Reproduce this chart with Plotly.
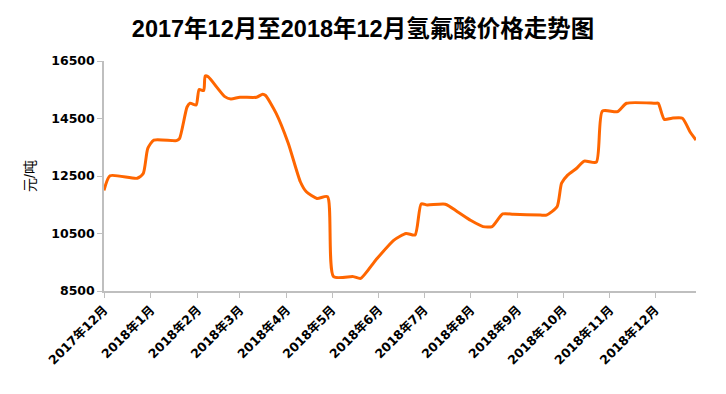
import plotly.graph_objects as go

dates = [
    "2017-12-01", "2017-12-05", "2017-12-23", "2017-12-27", "2017-12-30",
    "2018-01-03", "2018-01-18", "2018-01-20", "2018-01-25", "2018-01-27",
    "2018-01-31", "2018-02-02", "2018-02-05", "2018-02-06", "2018-02-08",
    "2018-02-19", "2018-02-23", "2018-03-01", "2018-03-12", "2018-03-16",
    "2018-03-18", "2018-03-25", "2018-04-02", "2018-04-10", "2018-04-14",
    "2018-04-21", "2018-04-28", "2018-05-02", "2018-05-15", "2018-05-20",
    "2018-05-30", "2018-06-11", "2018-06-19", "2018-06-25", "2018-06-29",
    "2018-07-03", "2018-07-15", "2018-07-23", "2018-08-01", "2018-08-09",
    "2018-08-15", "2018-08-22", "2018-08-29", "2018-09-16", "2018-09-20",
    "2018-09-27", "2018-09-30", "2018-10-04", "2018-10-10", "2018-10-15",
    "2018-10-23", "2018-10-27", "2018-11-06", "2018-11-12", "2018-12-01",
    "2018-12-03", "2018-12-07", "2018-12-12", "2018-12-19", "2018-12-24",
    "2018-12-28",
]
prices = [
    12000, 12510, 12420, 12590, 13460,
    13750, 13730, 13800, 14900, 15030,
    14970, 15510, 15470, 15980, 15950,
    15260, 15180, 15240, 15240, 15340,
    15300, 14680, 13640, 12300, 11950,
    11720, 11780, 9000, 9000, 8940,
    9580, 10270, 10500, 10450, 11530,
    11490, 11520, 11260, 10950, 10740,
    10740, 11180, 11170, 11140, 11140,
    11430, 12250, 12530, 12770, 13020,
    12980, 14760, 14740, 15030, 15030,
    15030, 14470, 14510, 14510, 14040,
    13750,
]

tick_dates = [
    "2017-12-01", "2018-01-01", "2018-02-01", "2018-03-01", "2018-04-01",
    "2018-05-01", "2018-06-01", "2018-07-01", "2018-08-01", "2018-09-01",
    "2018-10-01", "2018-11-01", "2018-12-01",
]
tick_labels = [
    "2017年12月", "2018年1月", "2018年2月", "2018年3月", "2018年4月",
    "2018年5月", "2018年6月", "2018年7月", "2018年8月", "2018年9月",
    "2018年10月", "2018年11月", "2018年12月",
]
y_ticks = [8500, 10500, 12500, 14500, 16500]

title_font = "Liberation Sans, Noto Sans CJK SC, sans-serif"
tick_font = "DejaVu Sans, Noto Sans CJK SC, sans-serif"

fig = go.Figure()
fig.add_trace(go.Scatter(
    x=dates, y=prices, mode="lines",
    line=dict(color="#FF6600", width=3, shape="spline", smoothing=0.6),
    showlegend=False, hoverinfo="x+y",
))

fig.update_layout(
    width=726, height=394,
    margin=dict(l=104, r=30, t=61, b=103),
    paper_bgcolor="white", plot_bgcolor="white",
    font=dict(family=tick_font, color="black"),
    title=dict(
        text="<b>2017年12月至2018年12月氢氟酸价格走势图</b>",
        x=0.5, xanchor="center", y=0.928, yanchor="middle",
        font=dict(size=23.5, family=title_font, color="black"),
    ),
    xaxis=dict(
        type="date",
        range=["2017-12-01", "2018-12-28"],
        tickmode="array", tickvals=tick_dates, ticktext=["<b>%s</b>" % t for t in tick_labels],
        tickangle=-45, tickfont=dict(size=12.5, family=tick_font, color="black"),
        showgrid=False, zeroline=False, automargin=False,
        showline=True, linecolor="#bfbfbf", linewidth=1.5,
        ticks="outside", ticklen=5, tickcolor="#bfbfbf",
    ),
    yaxis=dict(
        range=[8500, 16500],
        tickmode="array", tickvals=y_ticks, ticktext=["<b>%d</b>" % v for v in y_ticks],
        tickfont=dict(size=12.5, family=tick_font, color="black"),
        showgrid=False, zeroline=False, automargin=False,
        showline=True, linecolor="#bfbfbf", linewidth=1.5,
        ticks="outside", ticklen=5, tickcolor="#bfbfbf",
        title=dict(text="元/吨", font=dict(size=14, family=title_font, color="black"), standoff=12),
    ),
)

fig.write_html("out.html", config={"displayModeBar": False},
               post_script="document.body.style.margin='0';")
